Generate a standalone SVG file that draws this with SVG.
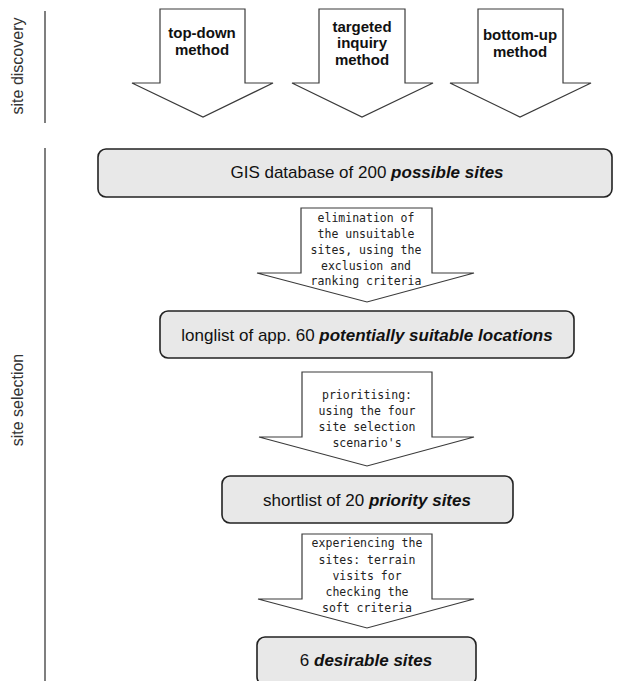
<svg xmlns="http://www.w3.org/2000/svg" width="628" height="681" viewBox="0 0 628 681">
<style>
.bg{fill:#ffffff}
.arrow{fill:#ffffff;stroke:#3a3a3a;stroke-width:1.2;stroke-linejoin:miter}
.box{fill:#e8e8e8;stroke:#222222;stroke-width:1.6}
.lbl{font-family:"Liberation Sans",Arial,sans-serif;font-weight:bold;font-size:15px;fill:#111;text-anchor:middle}
.mono{font-family:"DejaVu Sans Mono","Liberation Mono",monospace;font-size:11.5px;fill:#222;text-anchor:middle}
.boxt{font-family:"Liberation Sans",Arial,sans-serif;font-size:17px;fill:#111;text-anchor:middle}
.bi{font-weight:bold;font-style:italic}
.side{font-family:"Liberation Sans",Arial,sans-serif;font-size:16px;fill:#333;text-anchor:middle}
.rule{stroke:#555;stroke-width:1.5}
</style>
<rect class="bg" x="0" y="0" width="628" height="681"/>
<g id="side-labels">
<line class="rule" x1="45" y1="11" x2="45" y2="123"/>
<text class="side" transform="translate(23,66) rotate(-90)">site discovery</text>
<line class="rule" x1="45" y1="148" x2="45" y2="681"/>
<text class="side" transform="translate(23,400) rotate(-90)">site selection</text>
</g>
<g id="connectors">
<g id="arrow-topdown">
<path class="arrow" d="M160,9 H245 V83 H273 L203,117 L132,83 H160 Z"/>
<text class="lbl" x="202" y="38">top-down</text>
<text class="lbl" x="202" y="55">method</text>
</g>
<g id="arrow-targeted">
<path class="arrow" d="M319,9 H405 V83 H433 L362,117 L292,83 H319 Z"/>
<text class="lbl" x="362" y="32">targeted</text>
<text class="lbl" x="362" y="48">inquiry</text>
<text class="lbl" x="362" y="65">method</text>
</g>
<g id="arrow-bottomup">
<path class="arrow" d="M478,9 H563 V83 H591 L520,117 L450,83 H478 Z"/>
<text class="lbl" x="520" y="40">bottom-up</text>
<text class="lbl" x="520" y="57">method</text>
</g>
<g id="arrow-elimination">
<path class="arrow" d="M301,208 H432 V273 H474 L367,302 L257,273 H301 Z"/>
<text class="mono" x="366" y="222">elimination of</text>
<text class="mono" x="366" y="237.5">the unsuitable</text>
<text class="mono" x="366" y="253.5">sites, using the</text>
<text class="mono" x="366" y="269.5">exclusion and</text>
<text class="mono" x="366" y="285">ranking criteria</text>
</g>
<g id="arrow-prioritising">
<path class="arrow" d="M302,372 H432 V437 H474 L367,466 L259,437 H302 Z"/>
<text class="mono" x="367" y="399">prioritising:</text>
<text class="mono" x="367" y="415">using the four</text>
<text class="mono" x="367" y="431">site selection</text>
<text class="mono" x="367" y="447">scenario's</text>
</g>
<g id="arrow-experiencing">
<path class="arrow" d="M302,534 H432 V599 H474 L367,628 L258,599 H302 Z"/>
<text class="mono" x="367" y="547">experiencing the</text>
<text class="mono" x="367" y="564">sites: terrain</text>
<text class="mono" x="367" y="580">visits for</text>
<text class="mono" x="367" y="596">checking the</text>
<text class="mono" x="367" y="612">soft criteria</text>
</g>
</g>
<g id="node-gis">
<rect class="box" x="98" y="149" width="514" height="48" rx="8"/>
<text class="boxt" x="367" y="178">GIS database of 200 <tspan class="bi">possible sites</tspan></text>
</g>
<g id="node-longlist">
<rect class="box" x="160" y="311" width="414" height="47" rx="8"/>
<text class="boxt" x="367" y="341">longlist of app. 60 <tspan class="bi">potentially suitable locations</tspan></text>
</g>
<g id="node-shortlist">
<rect class="box" x="222" y="476" width="291" height="47" rx="8"/>
<text class="boxt" x="367" y="506">shortlist of 20 <tspan class="bi">priority sites</tspan></text>
</g>
<g id="node-desirable">
<rect class="box" x="257" y="637" width="219" height="48" rx="8"/>
<text class="boxt" x="366" y="666">6 <tspan class="bi">desirable sites</tspan></text>
</g>
</svg>
